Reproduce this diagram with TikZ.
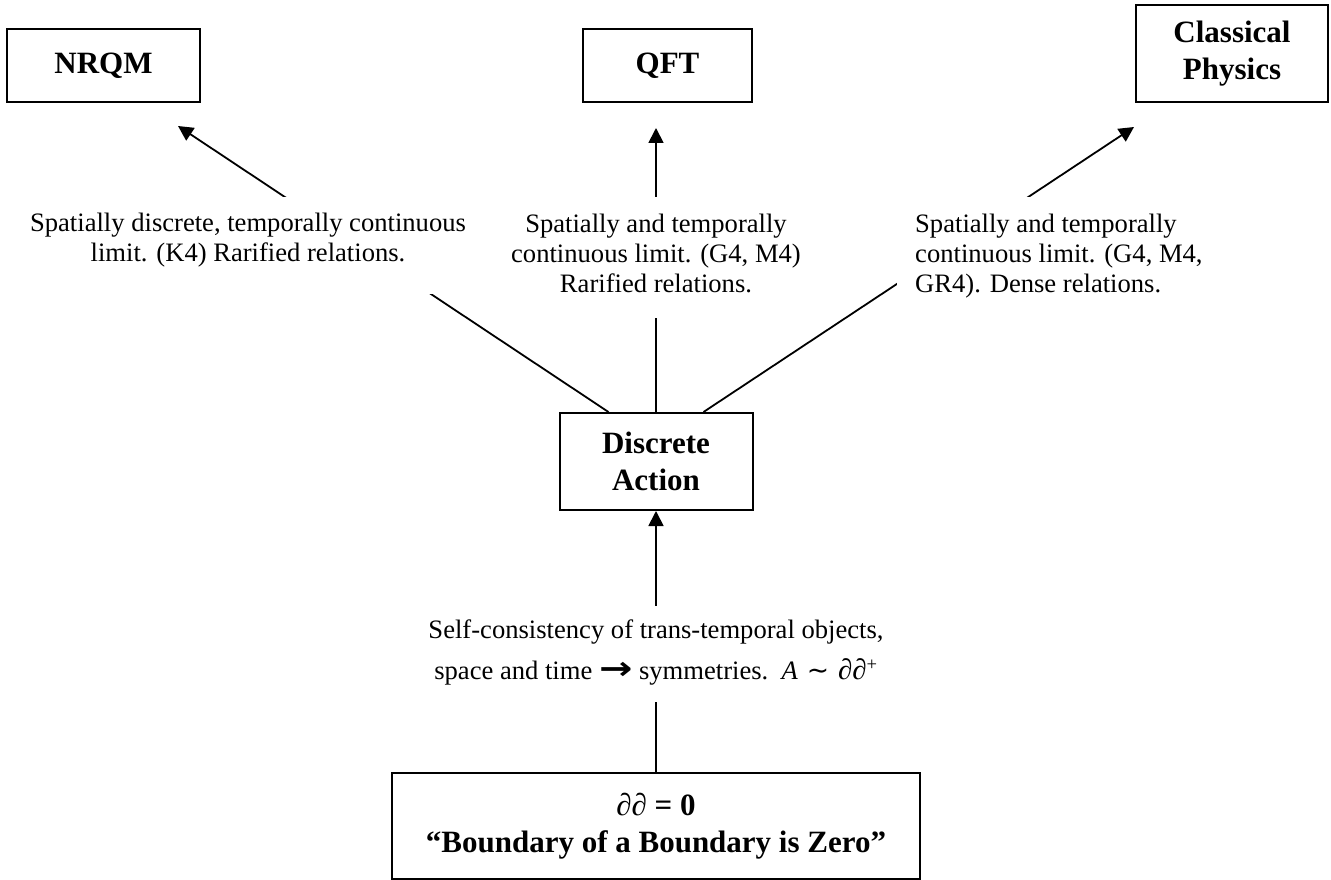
\documentclass[tikz,border=0pt]{standalone}
\usepackage{fontspec}
\setmainfont{Liberation Serif}
\newfontfamily\dejavu{DejaVu Sans}
\usepackage{graphicx}
\usetikzlibrary{arrows.meta}
\tikzset{
  box/.style={draw, line width=2pt, font=\bfseries\fontsize{31}{37}\selectfont, align=center, inner sep=0pt},
  lblbox/.style={fill=white, inner sep=0pt},
  lbltext/.style={font=\fontsize{26.6}{30}\selectfont, inner sep=0pt},
  conn/.style={line width=1.8pt},
  arr/.style={conn, -{Triangle[length=15pt,width=15pt]}},
}
\begin{document}
\begin{tikzpicture}[x=1pt,y=-1pt]
\useasboundingbox (0,0) rectangle (1331,880);
% boxes
\node[box, minimum width=193pt, minimum height=73pt] (nrqm) at (103.5,65.5) {NRQM};
\node[box, minimum width=169pt, minimum height=73pt] (qft) at (667.5,65.5) {QFT};
\node[box, minimum width=192pt, minimum height=97pt] (cp) at (1232,53.5) {Classical\\Physics};
\node[box, minimum width=193pt, minimum height=97pt] (da) at (656,461.5) {Discrete\\Action};
\node[box, minimum width=528pt, minimum height=106pt] (bb) at (656,826) {{\mdseries\itshape ∂∂} = 0\\“Boundary of a Boundary is Zero”};
% connector end points
\coordinate (daL) at ([xshift=-47.5pt]da.north);
\coordinate (daR) at ([xshift=47.5pt]da.north);
\coordinate (nrqmtip) at ([xshift=74.5pt,yshift=-23pt]nrqm.south);
\coordinate (qfttip) at ([xshift=-11.5pt,yshift=-25pt]qft.south);
\coordinate (cptip) at ([xshift=-1pt,yshift=-24pt]cp.south west);
% connectors
\draw[arr] (daL) -- (nrqmtip);
\draw[arr] (da.north) -- (qfttip);
\draw[arr] (daR) -- (cptip);
\draw[arr] (bb.north) -- (da.south);
% label backgrounds
\node[lblbox, minimum width=441pt, minimum height=97pt] (l1box) at (245.5,245.5) {};
\node[lblbox, minimum width=305pt, minimum height=121pt] (l2box) at (657.5,257.5) {};
\node[lblbox, minimum width=434pt, minimum height=113pt] (l3box) at (1114,253.5) {};
\node[lblbox, minimum width=475pt, minimum height=96pt] (l4box) at (657.5,654) {};
% label texts
\begin{scope}
\clip (l1box.south west) rectangle (l1box.north east);
\node[lbltext, align=center] (l1) at (248,240.5) {Spatially discrete, temporally continuous\\limit. (K4) Rarified relations.};
\end{scope}
\node[lbltext, align=center] (l2) at (656,253) {Spatially and temporally\\continuous limit. (G4, M4)\\Rarified relations.};
\node[lbltext, align=left, anchor=west] (l3) at (915,256.5) {Spatially and temporally\\continuous limit. (G4, M4,\\GR4). Dense relations.};
\node[lbltext, align=center] (l4) at (656,653) {Self-consistency of trans-temporal objects,\\[11pt]space and time \scalebox{1.5}[1.2]{\dejavu\bfseries →} symmetries.\ \ \textit{A}\,\,{\dejavu ∼}\,\,{\fontsize{29}{30}\selectfont\textit{∂∂}}\textsuperscript{+}};
\end{tikzpicture}
\end{document}
